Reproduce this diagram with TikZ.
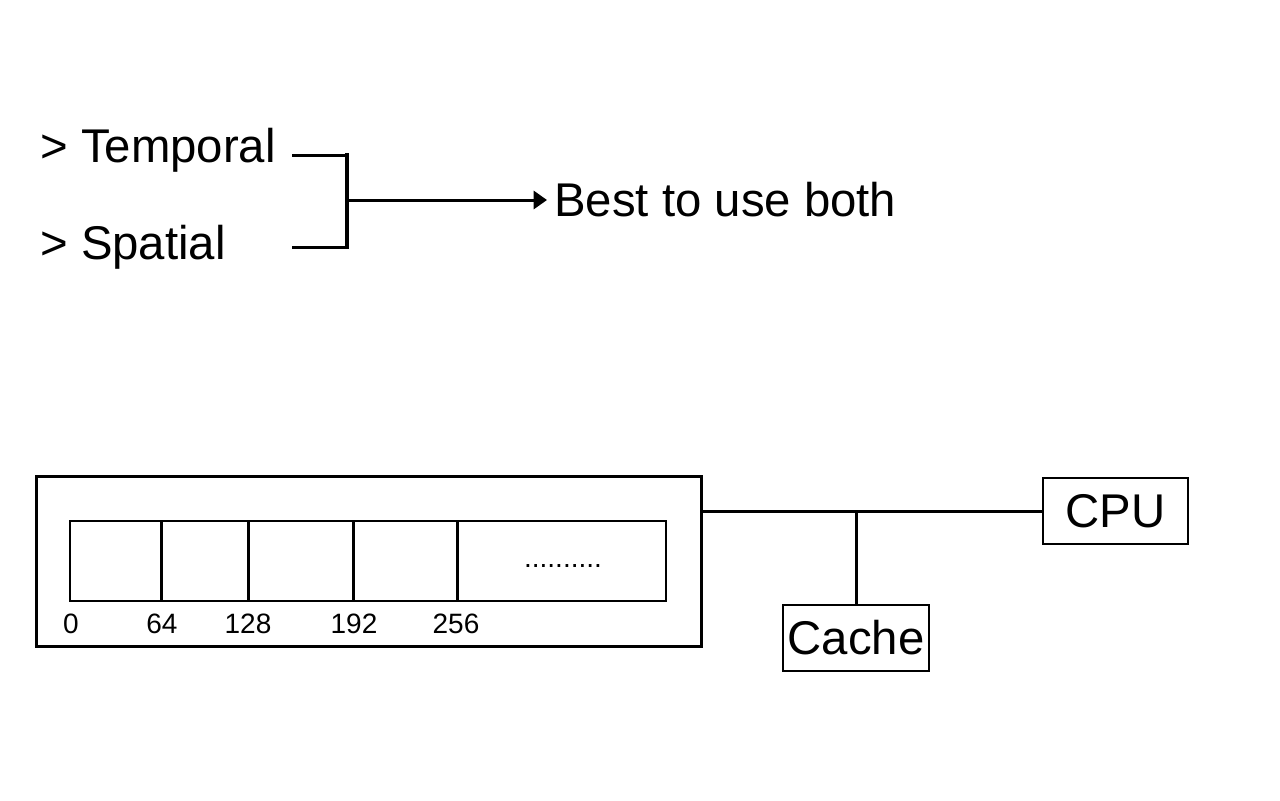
\documentclass[tikz,border=0pt]{standalone}
\usepackage{fontspec}
\setmainfont{Liberation Sans}
\usetikzlibrary{arrows.meta}
\begin{document}
\begin{tikzpicture}[x=0.75pt,y=-0.75pt,
  big/.style={font=\fontsize{35.5}{41}\selectfont, inner sep=0pt},
  small/.style={font=\fontsize{21}{25}\selectfont, inner sep=0pt},
  conn/.style={line width=2.25pt},
  sepline/.style={line width=2.25pt},
  outerbox/.style={draw, line width=2.25pt, inner sep=0pt},
  stripbox/.style={draw, line width=1.5pt, inner sep=0pt},
  unitbox/.style={draw, line width=1.5pt, inner sep=0pt, font=\fontsize{35.5}{41}\selectfont,
    minimum width=109pt, minimum height=49.5pt}]
\useasboundingbox (0,0) rectangle (1280,800);
% top part
\node[big, anchor=base west] (temporal) at (40,162) {> Temporal};
\node[big, anchor=base west] (spatial) at (40,259) {> Spatial};
\node[big, anchor=base west] (best) at (554,216) {Best to use both};
\coordinate (t1) at (292,155);
\coordinate (jt) at (347,155);
\coordinate (jb) at (347,247);
\coordinate (s1) at (292,247);
\coordinate (jm) at (347,200);
\coordinate (tip) at (547,200);
\draw[conn] (t1) -- (jt);
\draw[conn] (s1) -- (jb);
\draw[line width=3pt, line cap=rect] (jt) -- (jb);
\draw[conn, -{Triangle[length=10pt,width=13.5pt]}] (jm) -- (tip);
% memory
\node[outerbox, minimum width=498.75pt, minimum height=127.5pt] (mem) at (368.5,561) {};
\node[stripbox, minimum width=447pt, minimum height=60pt] (strip) at (368,561) {};
\foreach \xx/\nm in {161/a,248/b,353/c,457/d}{
  \coordinate (top\nm) at (\xx,521);
  \coordinate (bot\nm) at (\xx,601);
  \draw[sepline] (top\nm) -- (bot\nm);
}
\node[small, anchor=base] (dots) at (563,567) {..........};
\node[small, anchor=base] (l0) at (71,633) {0};
\node[small, anchor=base] (l64) at (162,633) {64};
\node[small, anchor=base] (l128) at (248,633) {128};
\node[small, anchor=base] (l192) at (354,633) {192};
\node[small, anchor=base] (l256) at (456,633) {256};
% CPU and cache
\node[unitbox] (cpu) at (1115.5,511) {CPU};
\node[unitbox] (cache) at (856,638) {Cache};
\draw[conn] (mem.east |- cpu.west) -- (cpu.west);
\draw[conn] (cache.north |- cpu.west) -- (cache.north);
\end{tikzpicture}
\end{document}
